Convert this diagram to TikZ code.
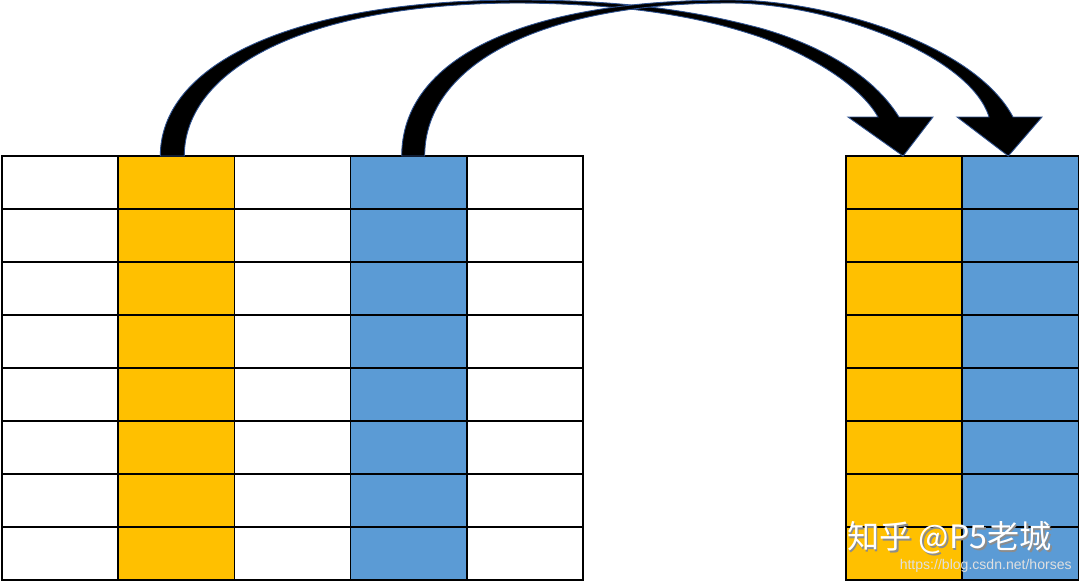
\documentclass[tikz,border=0pt]{standalone}
\usepackage{fontspec}
\setsansfont{Liberation Sans}
\newfontfamily\cjkfont{Noto Sans CJK SC}
\usetikzlibrary{calc}
\definecolor{colyellow}{HTML}{FFC000}
\definecolor{colblue}{HTML}{5B9BD5}
\definecolor{arrowedge}{HTML}{2F528F}

\begin{document}
\begin{tikzpicture}[x=0.02cm, y=-0.02cm,
  cell/.style={draw, line width=0.8pt, minimum width=2.324cm,
               minimum height=1.06cm, inner sep=0pt, outer sep=0pt},
  bigarrow/.style={fill=black, draw=arrowedge, line width=0.5pt},
  wm/.style={font=\cjkfont\fontsize{18.3}{18.3}\selectfont, inner sep=0pt},
  url/.style={font=\sffamily\fontsize{8}{8}\selectfont, text=black!12,
              inner sep=0pt}]
  \useasboundingbox (0,0) rectangle (1080,583);

  % left table: column 1 yellow, column 3 blue
  \foreach \c/\col in {0/white,1/colyellow,2/white,3/colblue,4/white}
    \foreach \r in {0,...,7}
      \node[cell, fill=\col] (lc-\c-\r) at ({60.1+116.2*\c}, {182.5+53*\r}) {};
  % right table
  \foreach \c/\col in {0/colyellow,1/colblue}
    \foreach \r in {0,...,7}
      \node[cell, fill=\col] (rc-\c-\r) at ({904.1+116.2*\c}, {182.5+53*\r}) {};

  % yellow column -> right yellow column
  \filldraw[bigarrow] ($(lc-1-0.north)+(-16,0)$)
    .. controls ($(lc-1-0.north)+(-16,-91)$) and (290,0) .. (520,0)
    .. controls (640,0) and (710,15) .. (760,28)
    .. controls (810,42) and (870,70) .. (899,117)
    -- (933,117) -- ($(rc-0-0.north)+(-1,0)$) -- (848,117) -- (878,117)
    .. controls (860,85) and (810,55) .. (760,37)
    .. controls (710,20) and (640,4) .. (520,3)
    .. controls (300,3) and ($(lc-1-0.north)+(8,-84)$) .. ($(lc-1-0.north)+(8,0)$)
    -- cycle;
  % blue column -> right blue column
  \filldraw[bigarrow] ($(lc-3-0.north)+(-7,0)$)
    .. controls ($(lc-3-0.north)+(-7,-96)$) and (520,0) .. (730,0)
    .. controls (830,0) and (975,45) .. (1013,117)
    -- (1042,117) -- ($(rc-1-0.north)+(-12,0)$) -- (957,117) -- (989,117)
    .. controls (970,55) and (830,3) .. (730,3)
    .. controls (540,3) and ($(lc-3-0.north)+(16,-91)$) .. ($(lc-3-0.north)+(16,0)$)
    -- cycle;

  % watermark
  \node[wm, text=black!45, anchor=west] (wm-shadow) at (848.5,539.5) {知乎 @P5老城};
  \node[wm, text=white, anchor=west] (wm-text) at (847,538) {知乎 @P5老城};
  \node[url, anchor=east] (wm-url) at (1072,566) {https://blog.csdn.net/horses};
\end{tikzpicture}
\end{document}
